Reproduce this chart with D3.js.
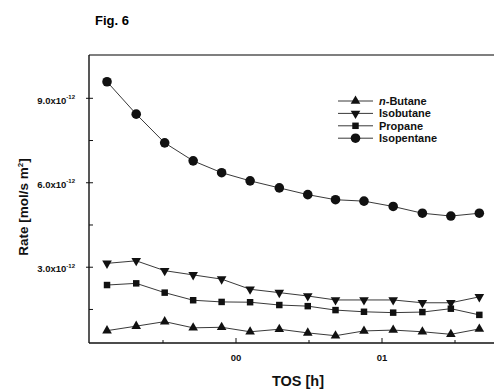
<!DOCTYPE html>
<html>
<head>
<meta charset="utf-8">
<script src="https://cdn.jsdelivr.net/npm/d3@7/dist/d3.min.js"></script>
<style>
  body { margin: 0; background: #fff; }
  svg { display: block; font-family: "Liberation Sans", Arial, sans-serif; }
</style>
</head>
<body>
<svg id="chart" width="494" height="390"></svg>
<script>
// time on stream, h (tick labels are as printed in the figure)
const tos = [1.2, 3.2, 5.15, 7.1, 9.05, 11, 13, 14.95, 16.85, 18.8, 20.8, 22.8, 24.75, 26.7];
const xMajor = [10, 20];
const xMinor = [5, 15, 25];
const xLabels = ["00", "01"];

// rates in units of 1e-12 mol/s m2
const nButane = [0.73, 0.89, 1.05, 0.83, 0.85, 0.69, 0.78, 0.65, 0.55, 0.72, 0.75, 0.69, 0.60, 0.79];
const isobutane = [3.12, 3.21, 2.86, 2.71, 2.56, 2.20, 2.08, 1.96, 1.82, 1.82, 1.82, 1.72, 1.72, 1.93];
const propane = [2.35, 2.41, 2.08, 1.81, 1.75, 1.74, 1.64, 1.60, 1.46, 1.40, 1.37, 1.39, 1.51, 1.29];
const isopentane = [9.57, 8.42, 7.40, 6.76, 6.34, 6.05, 5.80, 5.56, 5.38, 5.33, 5.14, 4.90, 4.80, 4.90];

const yMajor = [3, 6, 9];
const yMinor = [1.5, 4.5, 7.5];

const seriesNames = ["n-Butane", "Isobutane", "Propane", "Isopentane"];
const seriesValues = [nButane, isobutane, propane, isopentane];
const seriesSymbols = ["triUp", "triDown", "square", "circle"];

const svg = d3.select("#chart");
const m = {left: 89, top: 55, bottom: 343};
const ink = "#111";

const x = d3.scaleLinear().domain([0, 30]).range([89.5, 89.5 + 14.6 * 30]);
const y = d3.scaleLinear().domain([0, 10.52]).range([351.2, 55]);

// title
svg.append("text")
  .attr("x", 95).attr("y", 25)
  .attr("font-size", 13).attr("font-weight", "bold")
  .text("Fig. 6");

// frame: top border
svg.append("line")
  .attr("x1", m.left).attr("x2", 494)
  .attr("y1", m.top).attr("y2", m.top)
  .attr("stroke", "#555").attr("stroke-width", 1.6);

// y axis - labels + outward part of major ticks
const yAxis = svg.append("g")
  .attr("transform", `translate(${m.left},0)`)
  .call(d3.axisLeft(y).tickValues(yMajor).tickSizeInner(3).tickSizeOuter(0).tickPadding(11).tickFormat(""));
yAxis.select(".domain").remove();
yAxis.selectAll(".tick line").attr("stroke", ink);
yAxis.selectAll(".tick text")
  .attr("font-size", 9.5).attr("font-weight", "bold").attr("fill", ink)
  .attr("dy", "0.55em")
  .html(d => `${d.toFixed(1)}x10<tspan dy="-4.5" font-size="6">-12</tspan>`);

// y axis - inward ticks
svg.append("g")
  .attr("transform", `translate(${m.left},0)`)
  .call(d3.axisRight(y).tickValues(yMajor.concat(yMinor)).tickSizeInner(4).tickSizeOuter(0).tickFormat(""))
  .call(g => g.select(".domain").remove())
  .call(g => g.selectAll(".tick line").attr("stroke", ink));

svg.append("line")
  .attr("x1", m.left).attr("x2", m.left)
  .attr("y1", m.top).attr("y2", m.bottom)
  .attr("stroke", ink).attr("stroke-width", 1.4);

// x axis
const xAxis = svg.append("g")
  .attr("transform", `translate(0,${m.bottom})`)
  .call(d3.axisTop(x).tickValues(xMajor).tickSizeInner(5).tickSizeOuter(0).tickFormat(""));
xAxis.select(".domain").remove();
xAxis.selectAll(".tick line").attr("stroke", ink);
xAxis.selectAll(".tick").append("text")
  .attr("y", 18).attr("text-anchor", "middle")
  .attr("font-size", 9.5).attr("font-weight", "bold").attr("fill", ink)
  .text((d, i) => xLabels[i]);

svg.append("g")
  .attr("transform", `translate(0,${m.bottom})`)
  .call(d3.axisTop(x).tickValues(xMinor).tickSizeInner(3).tickSizeOuter(0).tickFormat(""))
  .call(g => g.select(".domain").remove())
  .call(g => g.selectAll(".tick line").attr("stroke", ink));

svg.append("line")
  .attr("x1", m.left).attr("x2", 494)
  .attr("y1", m.bottom).attr("y2", m.bottom)
  .attr("stroke", ink).attr("stroke-width", 1.4);

// axis titles
svg.append("text")
  .attr("x", 298).attr("y", 386)
  .attr("text-anchor", "middle")
  .attr("font-size", 14.5).attr("font-weight", "bold").attr("fill", ink)
  .text("TOS [h]");

svg.append("text")
  .attr("transform", "translate(28,207) rotate(-90)")
  .attr("text-anchor", "middle")
  .attr("font-size", 13.5).attr("font-weight", "bold").attr("fill", ink)
  .html('Rate [mol/s m<tspan dy="-5" font-size="8">2</tspan><tspan dy="5">]</tspan>');

// symbols
const symbolPath = {
  triUp: d3.symbol().type(d3.symbolTriangle).size(40)(),
  triDown: d3.symbol().type(d3.symbolTriangle).size(40)(),
  square: d3.symbol().type(d3.symbolSquare).size(42)(),
  circle: d3.symbol().type(d3.symbolCircle).size(72)()
};
function drawSymbol(g, kind, cx, cy) {
  g.append("path")
    .attr("d", symbolPath[kind])
    .attr("transform", `translate(${cx},${cy})` + (kind === "triDown" ? " rotate(180)" : ""))
    .attr("fill", ink);
}

const line = d3.line()
  .x((d, i) => x(tos[i]))
  .y(d => y(d));

seriesValues.forEach((vals, k) => {
  const g = svg.append("g");
  g.append("path")
    .attr("d", line(vals))
    .attr("fill", "none")
    .attr("stroke", "#222")
    .attr("stroke-width", 0.9);
  vals.forEach((v, i) => drawSymbol(g, seriesSymbols[k], x(tos[i]), y(v)));
});

// legend
const legend = svg.append("g").attr("transform", "translate(338,101)");
seriesNames.forEach((name, k) => {
  const row = legend.append("g").attr("transform", `translate(0,${k * 12.4})`);
  row.append("line")
    .attr("x1", 0).attr("x2", 35)
    .attr("stroke", "#222").attr("stroke-width", 0.9);
  drawSymbol(row, seriesSymbols[k], 17.5, 0);
  const t = row.append("text")
    .attr("x", 41).attr("dy", "0.36em")
    .attr("font-size", 11).attr("font-weight", "bold").attr("fill", ink);
  if (name.startsWith("n-")) {
    t.append("tspan").attr("font-style", "italic").text("n");
    t.append("tspan").text(name.slice(1));
  } else {
    t.text(name);
  }
});
</script>
</body>
</html>
